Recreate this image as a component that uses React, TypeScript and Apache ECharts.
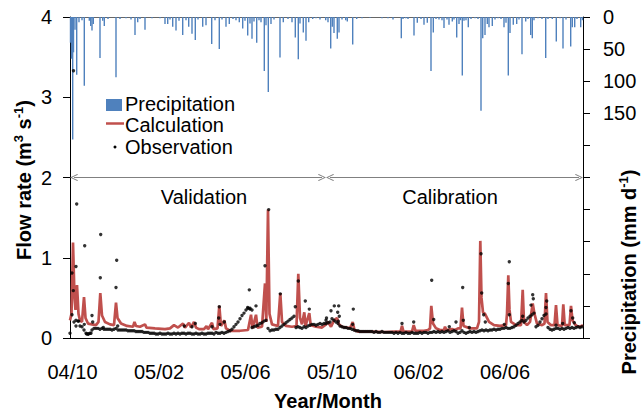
import React, { useEffect, useRef } from 'react';
import * as echarts from 'echarts';

// time axis: record sample number (0..513), tick labels every 86.5 samples
const X_MAX = 513;
const X_STEP = 86.5;
const xTickLabels = ['04/10', '05/02', '05/06', '05/10', '06/02', '06/06'];
const flowMax = 4;
const precipMax = 500;
const precipLabelMax = 150;

// Precipitation events [sample, mm/d]
const precipitation: [number, number][] = [
  [0.5, 40], [1.5, 65], [2.7, 191], [3.5, 55], [5, 20], [6.7, 90], [9, 8], [12, 5], [14.3, 107], [19.3, 6],
  [20.7, 14], [22, 21], [23.3, 11], [30, 64], [32.7, 6], [34.3, 14], [38, 3], [46, 94], [50, 3], [56, 2],
  [61, 4], [65, 28], [67.7, 8], [70, 3], [75, 20], [82, 2], [90, 2], [95, 11], [97.7, 11], [100, 4],
  [102.7, 15], [106, 21], [109, 6], [112.7, 28], [116, 5], [118.7, 15], [122, 26], [125.3, 36], [128, 4], [132.7, 15],
  [136, 13], [141.7, 42], [145, 5], [149.3, 50], [152, 4], [156, 15], [159.3, 11], [163, 3], [166, 5], [169.3, 8],
  [172.7, 18], [175, 6], [177.7, 29], [180, 10], [182, 34], [184, 7], [186.7, 40], [189, 5], [191, 8], [194.3, 84],
  [196, 13], [198.3, 117], [201, 11], [204, 4], [210, 63], [213.3, 8], [218, 3], [222, 8], [225.3, 32], [228.3, 66],
  [230, 10], [233.3, 24], [236, 37], [238.7, 8], [242.7, 3], [246, 2], [250, 4], [255.7, 5], [258, 8], [260.7, 49],
  [262.3, 15], [264, 25], [267.3, 34], [269, 24], [272, 4], [275.7, 5], [277.3, 7], [282.7, 43], [286.7, 3], [292, 2],
  [300, 1], [312, 2], [318, 2], [323, 4], [331.3, 33], [333, 3], [335.7, 2], [338, 3], [344, 29], [347.3, 9],
  [351, 3], [354, 12], [357.3, 9], [361, 84], [363.3, 24], [366, 3], [369, 4], [372, 5], [374, 17], [377, 4],
  [379, 12], [382.3, 7], [384, 4], [386.7, 32], [389, 11], [390.5, 5], [392.3, 91], [394, 6], [396, 5], [398.3, 16],
  [401, 3], [405, 2], [408, 3], [411, 146], [412.7, 33], [415, 28], [417.3, 11], [419, 16], [422.3, 14], [425, 4],
  [428, 2], [431, 3], [434, 16], [436, 9], [438.3, 91], [440, 25], [443.3, 12], [446.7, 11], [449, 4], [452, 58],
  [455.7, 7], [458, 3], [460.7, 28], [462.3, 33], [464, 5], [468, 2], [472, 3], [475.7, 64], [478, 3], [482.3, 3],
  [486.3, 38], [490, 2], [493, 49], [496, 4], [500.7, 46], [502.3, 16], [504.7, 16], [507, 3], [510.7, 16], [512.5, 5],
];

// Calculated flow [sample, m3/s]
const calculation: [number, number][] = [
  [0, 0.22], [1.5, 0.3], [3, 1.19], [4.5, 0.5], [5.5, 0.35], [7, 0.66], [8.5, 0.3], [10, 0.22], [12, 0.2], [14, 0.51],
  [15.5, 0.25], [18, 0.18], [22, 0.17], [26, 0.16], [28.5, 0.2], [30.3, 0.56], [32, 0.28], [35, 0.2], [40, 0.17], [44, 0.16],
  [46, 0.44], [47.5, 0.25], [51, 0.18], [57, 0.15], [63, 0.14], [64.5, 0.2], [66, 0.15], [70, 0.14], [75, 0.17], [76.5, 0.13],
  [85, 0.12], [95, 0.11], [100, 0.12], [104, 0.16], [108, 0.13], [113, 0.18], [115, 0.13], [119, 0.19], [121, 0.13], [124, 0.2],
  [126, 0.13], [129, 0.11], [134, 0.11], [136.5, 0.15], [138, 0.11], [142, 0.19], [143.5, 0.11], [147.5, 0.12], [149.3, 0.4], [151, 0.15],
  [154.3, 0.22], [156, 0.12], [160, 0.09], [170, 0.09], [178, 0.1], [181, 0.29], [182.5, 0.12], [186, 0.29], [187.5, 0.13], [192, 0.14],
  [195, 0.68], [196.3, 0.2], [198, 1.6], [199.5, 0.3], [202, 0.17], [208, 0.15], [210.3, 0.56], [212, 0.2], [216, 0.15], [222, 0.14],
  [226.5, 0.15], [228.3, 0.8], [230, 0.25], [232, 0.17], [234.3, 0.32], [235.5, 0.15], [239.3, 0.31], [240.7, 0.16], [246, 0.14], [252, 0.13],
  [256, 0.17], [258, 0.2], [261, 0.14], [264, 0.22], [267, 0.25], [269, 0.17], [272, 0.14], [277, 0.13], [280, 0.12], [282.7, 0.2],
  [284.5, 0.1], [288, 0.08], [300, 0.08], [315, 0.075], [325, 0.08], [330.5, 0.08], [332, 0.15], [333.5, 0.08], [342, 0.08], [343.7, 0.16],
  [345.5, 0.09], [354, 0.09], [358, 0.1], [360, 0.12], [361.3, 0.4], [363, 0.18], [366, 0.12], [370, 0.1], [374, 0.1], [375, 0.14],
  [376.5, 0.1], [382, 0.11], [385, 0.1], [388, 0.12], [390.5, 0.12], [392, 0.38], [393.5, 0.15], [400, 0.12], [407, 0.12], [409, 0.2],
  [410.3, 1.21], [411.5, 0.5], [413, 0.32], [415, 0.3], [419, 0.2], [424, 0.16], [430, 0.15], [436, 0.16], [437, 0.3], [438.3, 0.78],
  [439.5, 0.35], [441, 0.2], [446, 0.16], [451, 0.16], [452.7, 0.6], [454, 0.2], [457, 0.16], [460, 0.2], [462.7, 0.43], [464.5, 0.3],
  [467, 0.18], [472, 0.16], [474.5, 0.18], [476, 0.56], [477.5, 0.2], [481, 0.16], [484.5, 0.16], [486, 0.41], [487.5, 0.16], [492, 0.15],
  [493.3, 0.42], [494.7, 0.16], [499.5, 0.16], [501, 0.4], [502.5, 0.22], [505, 0.17], [507, 0.15], [510, 0.14], [513, 0.16],
];

// Observed flow, regular record every 2 samples (m3/s)
const OBS_STEP = 2;
const observationBase: number[] = [
  0.06, 0.29, 0.2, 0.22, 0.21, 0.15, 0.14, 0.1, 0.06, 0.05,
  0.06, 0.1, 0.12, 0.12, 0.12, 0.11, 0.12, 0.11, 0.11, 0.11,
  0.11, 0.1, 0.11, 0.12, 0.1, 0.1, 0.1, 0.1, 0.1, 0.09,
  0.09, 0.09, 0.09, 0.08, 0.08, 0.08, 0.08, 0.07, 0.07, 0.07,
  0.06, 0.06, 0.06, 0.05, 0.05, 0.06, 0.05, 0.05, 0.05, 0.06,
  0.05, 0.05, 0.06, 0.05, 0.06, 0.05, 0.06, 0.06, 0.05, 0.06,
  0.06, 0.05, 0.05, 0.06, 0.05, 0.05, 0.06, 0.05, 0.05, 0.06,
  0.06, 0.06, 0.05, 0.07, 0.06, 0.06, 0.07, 0.06, 0.07, 0.08,
  0.09, 0.11, 0.14, 0.17, 0.2, 0.24, 0.28, 0.31, 0.35, 0.37,
  0.36, 0.13, 0.14, 0.15, 0.16, 0.18, 0.19, 0.21, 0.22, 0.12,
  0.09, 0.1, 0.1, 0.11, 0.11, 0.13, 0.15, 0.17, 0.19, 0.21,
  0.23, 0.25, 0.27, 0.13, 0.14, 0.13, 0.12, 0.14, 0.13, 0.15,
  0.16, 0.17, 0.17, 0.16, 0.17, 0.18, 0.17, 0.18, 0.18, 0.19,
  0.2, 0.24, 0.22, 0.2, 0.18, 0.15, 0.14, 0.13, 0.13, 0.12,
  0.12, 0.11, 0.1, 0.09, 0.09, 0.08, 0.08, 0.08, 0.08, 0.08,
  0.08, 0.08, 0.07, 0.08, 0.07, 0.07, 0.08, 0.07, 0.07, 0.07,
  0.07, 0.07, 0.06, 0.07, 0.06, 0.07, 0.06, 0.06, 0.07, 0.06,
  0.06, 0.07, 0.06, 0.06, 0.06, 0.07, 0.06, 0.07, 0.07, 0.06,
  0.07, 0.07, 0.08, 0.07, 0.08, 0.07, 0.08, 0.07, 0.08, 0.09,
  0.07, 0.08, 0.09, 0.08, 0.06, 0.07, 0.09, 0.07, 0.06, 0.07,
  0.08, 0.07, 0.08, 0.07, 0.08, 0.09, 0.1, 0.09, 0.1, 0.09,
  0.1, 0.1, 0.11, 0.1, 0.11, 0.11, 0.12, 0.12, 0.13, 0.12,
  0.12, 0.13, 0.14, 0.16, 0.18, 0.2, 0.22, 0.2, 0.22, 0.25,
  0.27, 0.29, 0.31, 0.14, 0.16, 0.2, 0.24, 0.28, 0.3, 0.13,
  0.11, 0.1, 0.11, 0.12, 0.12, 0.11, 0.12, 0.11, 0.12, 0.13,
  0.12, 0.13, 0.12, 0.13, 0.14, 0.13, 0.14,
];

// Additional observed flows during events [sample, m3/s]
const observationEvents: [number, number][] = [
  [2, 0.81], [3.3, 0.59], [3.5, 3.33], [6, 0.89], [6, 0.15], [6.7, 1.67], [8.7, 0.21], [14.3, 0.17], [14.7, 1.15], [16.7, 0.05],
  [18.5, 0.05], [21, 0.06], [22, 0.28], [22.7, 0.2], [30.3, 0.75], [30.7, 1.29], [33.3, 0.13], [46, 0.63], [46.7, 0.97], [47.7, 0.15],
  [114.3, 0.15], [122, 0.14], [125.3, 0.18], [142, 0.14], [148.7, 0.25], [149.3, 0.39], [150, 0.17], [154.3, 0.2], [177.7, 0.38], [179.3, 0.6],
  [180, 0.37], [182, 0.35], [186, 0.4], [195, 0.9], [198.7, 1.6], [210.3, 0.55], [225.3, 0.39], [228.3, 0.71], [235.3, 0.46], [239.3, 0.36],
  [256, 0.22], [256.5, 0.25], [261, 0.34], [264.3, 0.4], [267.7, 0.32], [268.3, 0.21], [268.7, 0.4], [269.3, 0.27], [282.7, 0.17], [283.3, 0.36],
  [332, 0.18], [343.7, 0.2], [361.7, 0.72], [363.7, 0.23], [379.3, 0.14], [386, 0.2], [392.7, 0.63], [393.3, 0.22], [399.3, 0.13], [411, 1.05],
  [411.7, 0.56], [413.7, 0.29], [415.3, 0.2], [434.3, 0.17], [438.3, 0.68], [439.3, 0.95], [439.3, 0.29], [452.7, 0.27], [461, 0.41], [462.7, 0.54],
  [463.3, 0.49], [476, 0.38], [476.7, 0.46], [486, 0.16], [492.7, 0.18], [501, 0.34], [502.7, 0.25], [504.3, 0.19],
];

// Periods [start, end] in samples, at flow level
const periodLevel = 2;
const validationPeriod: [number, number] = [4, 252];
const calibrationPeriod: [number, number] = [260, 509];

const FONT = "'Liberation Sans', Arial, Helvetica, sans-serif";
const BLUE = '#4F81BD';
const RED = '#C0504D';
const CHEVRON = 'path://M5 0L10 10L9 11L5 2.6L1 11L0 10Z';

export default function App() {
  const ref = useRef<HTMLDivElement>(null);
  useEffect(() => {
    if (!ref.current) return;
    const chart = echarts.init(ref.current, undefined, { renderer: 'svg' });
    const obsData: [number, number][] = observationBase
      .map((v, i) => [i * OBS_STEP, v] as [number, number])
      .concat(observationEvents);
    const txt = (text: string, x: number, y: number, extra: any = {}) => ({
      type: 'text', x, y, silent: true,
      style: {
        text, fill: '#000', font: `20px ${FONT}`,
        align: 'left', textAlign: 'left', verticalAlign: 'middle', textVerticalAlign: 'middle',
        ...extra,
      },
    });
    const rich = {
      a: { fontSize: 20, fontWeight: 'bold', fontFamily: FONT, lineHeight: 24, fill: '#000', color: '#000' },
      b: { fontSize: 13, fontWeight: 'bold', fontFamily: FONT, lineHeight: 14, verticalAlign: 'top', fill: '#000', color: '#000' },
    };
    chart.setOption({
      animation: false,
      grid: { left: 70, right: 60, top: 17, bottom: 74 },
      xAxis: [
        {
          type: 'value', min: 0, max: X_MAX, interval: X_STEP, position: 'bottom',
          axisLine: { show: true, onZero: false, lineStyle: { color: '#000', width: 1 } },
          axisTick: { show: false }, splitLine: { show: false },
          axisLabel: {
            fontSize: 20, fontFamily: FONT, color: '#000', margin: 24, padding: [0, 0, 0, 5],
            formatter: (v: number) => {
              const i = Math.round(v / X_STEP);
              return Math.abs(v - i * X_STEP) < 1e-3 && i < xTickLabels.length ? xTickLabels[i] : '';
            },
          },
        },
        {
          type: 'value', min: 0, max: X_MAX, position: 'top',
          axisLine: { show: true, onZero: false, lineStyle: { color: '#666', width: 1 } },
          axisTick: { show: false }, axisLabel: { show: false }, splitLine: { show: false },
        },
      ],
      yAxis: [
        {
          type: 'value', min: 0, max: flowMax, interval: 1, position: 'left',
          axisLine: { show: true, onZero: false, lineStyle: { color: '#000', width: 1 } },
          axisTick: { show: true, length: 7, lineStyle: { color: '#000' } },
          axisLabel: { fontSize: 20, fontFamily: FONT, color: '#000', margin: 18 },
          splitLine: { show: false },
        },
        {
          type: 'value', min: 0, max: precipMax, interval: 50, inverse: true, position: 'right',
          axisLine: { show: true, onZero: false, lineStyle: { color: '#000', width: 1 } },
          axisTick: { show: true, length: 7, lineStyle: { color: '#000' } },
          axisLabel: {
            fontSize: 20, fontFamily: FONT, color: '#000', margin: 20,
            formatter: (v: number) => (v <= precipLabelMax ? String(v) : ''),
          },
          splitLine: { show: false },
        },
      ],
      series: [
        {
          name: 'Precipitation', type: 'bar', xAxisIndex: 0, yAxisIndex: 1,
          data: precipitation, barWidth: 1.4, itemStyle: { color: BLUE }, z: 2, silent: true,
        },
        {
          name: 'Calculation', type: 'line', xAxisIndex: 0, yAxisIndex: 0,
          data: calculation, showSymbol: false, symbol: 'none',
          lineStyle: { color: RED, width: 2.7 }, z: 3, silent: true,
          markLine: {
            silent: true, symbol: [CHEVRON, CHEVRON], symbolSize: [7, 8],
            lineStyle: { color: '#808080', width: 1, type: 'solid' },
            label: { show: false },
            data: [
              [{ coord: [validationPeriod[0], periodLevel] }, { coord: [validationPeriod[1], periodLevel] }],
              [{ coord: [calibrationPeriod[0], periodLevel] }, { coord: [calibrationPeriod[1], periodLevel] }],
            ],
          },
        },
        {
          name: 'Observation', type: 'scatter', xAxisIndex: 0, yAxisIndex: 0,
          data: obsData, symbol: 'circle', symbolSize: 3.4, itemStyle: { color: '#000' }, z: 4, silent: true,
        },
      ],
      graphic: [
        { type: 'rect', shape: { x: 106, y: 99, width: 16, height: 12 }, style: { fill: BLUE }, silent: true },
        txt('Precipitation', 125, 104),
        { type: 'line', shape: { x1: 106, y1: 123.5, x2: 124, y2: 123.5 }, style: { stroke: RED, lineWidth: 2.5 }, silent: true },
        txt('Calculation', 125, 124.5),
        { type: 'circle', shape: { cx: 115, cy: 147, r: 1.5 }, style: { fill: '#000' }, silent: true },
        txt('Observation', 125, 147),
        txt('Validation', 204, 197, { align: 'center', textAlign: 'center' }),
        txt('Calibration', 450, 197, { align: 'center', textAlign: 'center' }),
        txt('Year/Month', 328, 401, { align: 'center', textAlign: 'center', font: `bold 20px ${FONT}` }),
        {
          type: 'text', x: 24, y: 180, rotation: Math.PI / 2, silent: true,
          style: {
            text: '{a|Flow rate (m}{b|3}{a| s}{b|-1}{a|)}', rich,
            align: 'center', textAlign: 'center', verticalAlign: 'middle', textVerticalAlign: 'middle', fill: '#000',
          },
        },
        {
          type: 'text', x: 629, y: 272, rotation: Math.PI / 2, silent: true,
          style: {
            text: '{a|Precipitation (mm d}{b|-1}{a|)}', rich,
            align: 'center', textAlign: 'center', verticalAlign: 'middle', textVerticalAlign: 'middle', fill: '#000',
          },
        },
      ],
    });
    return () => chart.dispose();
  }, []);
  return <div ref={ref} style={{ position: 'absolute', left: 0, top: 0, width: 643, height: 412 }} />;
}
